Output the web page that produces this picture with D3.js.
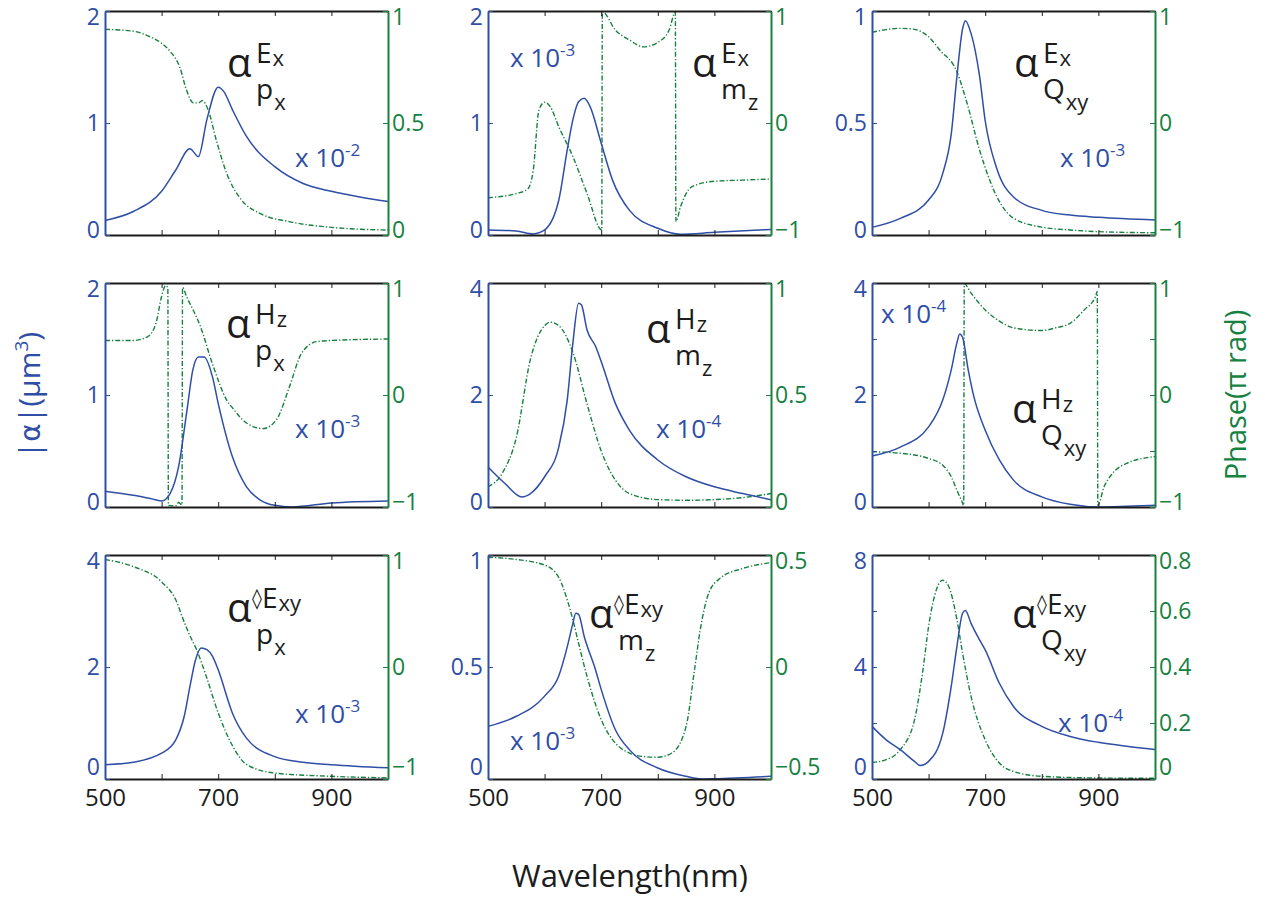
<!DOCTYPE html>
<html>
<head>
<meta charset="utf-8">
<script src="https://cdn.jsdelivr.net/npm/d3@7"></script>
<style>
  body { margin: 0; background: #fff; }
  text { font-family: "Open Sans", sans-serif; }
</style>
</head>
<body>
<div id="chart"></div>
<script>
// ---- data: |alpha| (blue) and phase in pi rad (green) ----
// row 1: incident Ex
var pxExWl   = [500,550,600,625,650,665,680,700,710,725,750,800,850,900,950,1000];
var pxExAmp  = [0.13,0.21,0.39,0.58,0.77,0.70,1.03,1.32,1.28,1.12,0.88,0.61,0.46,0.39,0.34,0.30];
var pxExPhWl = [500,550,575,600,615,632,644,656,665,672,682,697,715,740,775,825,900,1000];
var pxExPh   = [0.918,0.91,0.89,0.856,0.82,0.75,0.647,0.59,0.59,0.60,0.56,0.42,0.275,0.16,0.095,0.06,0.034,0.022];

var mzExWl   = [500,550,580,600,625,640,650,660,670,680,700,720,750,800,840,900,1000];
var mzExAmp  = [0.045,0.036,0.01,0.045,0.31,0.76,1.03,1.19,1.22,1.15,0.82,0.49,0.22,0.06,0.006,0.024,0.05];
var mzExPhWl = [500,550,570,580,590,600,610,625,650,675,701,702,725,750,775,800,820,831,832,840,860,900,950,1000];
var mzExPh   = [-0.667,-0.63,-0.59,-0.42,0.116,0.185,0.146,-0.033,-0.30,-0.63,-0.955,0.994,0.83,0.74,0.68,0.72,0.83,0.99,-0.88,-0.75,-0.57,-0.52,-0.51,-0.50];

var qxyExWl   = [500,550,600,625,640,650,660,665,675,690,700,720,750,800,850,900,1000];
var qxyExAmp  = [0.034,0.074,0.156,0.275,0.45,0.707,0.92,0.957,0.90,0.71,0.51,0.30,0.17,0.11,0.089,0.079,0.067];
var qxyExPhWl = [500,550,575,600,620,650,668,690,725,750,800,850,900,1000];
var qxyExPh   = [0.81,0.845,0.836,0.77,0.65,0.458,0.176,-0.24,-0.70,-0.85,-0.93,-0.955,-0.97,-0.98];

// row 2: incident Hz
var pxHzWl   = [500,550,580,600,615,630,645,655,665,675,690,700,725,750,775,800,830,900,1000];
var pxHzAmp  = [0.14,0.104,0.075,0.054,0.12,0.36,0.87,1.22,1.34,1.34,1.16,0.925,0.45,0.18,0.06,0.015,0.0,0.036,0.054];
var pxHzPhWl = [500,550,575,590,600,607,611,612,625,630,636,637,644,668,691,715,726,750,779,803,826,847,874,900,1000];
var pxHzPh   = [0.487,0.487,0.52,0.64,0.88,0.976,0.96,-0.985,-0.99,-0.96,-0.98,0.96,0.88,0.62,0.26,-0.045,-0.12,-0.25,-0.30,-0.22,0.075,0.37,0.477,0.487,0.50];

var mzHzWl   = [500,530,560,575,600,625,640,650,660,665,675,690,700,725,750,800,850,900,950,1000];
var mzHzAmp  = [0.716,0.42,0.18,0.24,0.54,1.07,1.91,2.93,3.64,3.61,3.16,2.87,2.60,1.85,1.37,0.84,0.54,0.36,0.24,0.13];
var mzHzPhWl = [500,525,550,575,600,610,625,650,675,700,725,750,800,850,900,950,1000];
var mzHzPh   = [0.09,0.15,0.31,0.66,0.81,0.825,0.81,0.69,0.46,0.25,0.12,0.06,0.033,0.03,0.033,0.042,0.06];

var qxyHzWl   = [500,550,600,625,640,650,655,660,670,680,700,725,750,800,850,900,950,1000];
var qxyHzAmp  = [0.91,1.07,1.43,1.91,2.45,2.93,3.09,3.03,2.45,1.97,1.37,0.84,0.48,0.18,0.048,0.0,0.012,0.03];
var qxyHzPhWl = [500,550,600,625,640,650,658,662,663,675,700,725,750,800,825,850,875,895,898,899,910,925,950,1000];
var qxyHzPh   = [-0.507,-0.52,-0.567,-0.627,-0.73,-0.85,-0.94,-0.985,0.994,0.91,0.76,0.66,0.60,0.576,0.60,0.64,0.76,0.88,0.925,-0.985,-0.82,-0.70,-0.61,-0.55];

// row 3: incident gradient dEx/dy
var pxGWl   = [500,550,600,625,640,650,660,670,680,690,700,725,750,800,850,900,1000];
var pxGAmp  = [0.256,0.30,0.46,0.70,1.12,1.65,2.13,2.34,2.31,2.19,1.95,1.18,0.73,0.40,0.30,0.256,0.20];
var pxGPhWl = [500,550,600,625,640,650,662,679,700,726,750,800,900,1000];
var pxGPh   = [0.96,0.896,0.76,0.60,0.40,0.28,0.153,-0.085,-0.41,-0.71,-0.87,-0.947,-0.976,-0.99];

var mzGWl   = [500,550,600,625,640,650,655,660,670,690,700,725,750,800,850,880,900,1000];
var mzGAmp  = [0.235,0.28,0.37,0.46,0.59,0.695,0.74,0.735,0.636,0.487,0.40,0.22,0.13,0.049,0.012,0.0,0.0015,0.012];
var mzGPhWl = [500,550,600,625,640,650,660,675,700,725,750,775,800,825,850,865,875,890,910,950,1000];
var mzGPh   = [0.49,0.48,0.455,0.40,0.30,0.21,0.106,-0.042,-0.235,-0.34,-0.384,-0.40,-0.403,-0.384,-0.265,-0.01,0.166,0.33,0.396,0.44,0.466];

var qxyGWl   = [500,525,550,575,585,600,625,640,650,660,665,675,690,700,725,750,800,850,900,950,1000];
var qxyGAmp  = [1.88,1.40,1.05,0.63,0.48,0.63,1.64,3.31,4.73,5.92,6.02,5.56,4.97,4.61,3.42,2.59,1.88,1.52,1.31,1.17,1.05];
var qxyGPhWl = [500,525,550,575,590,600,610,625,635,650,660,675,700,725,750,800,900,1000];
var qxyGPh   = [0.059,0.069,0.105,0.21,0.39,0.545,0.65,0.71,0.69,0.57,0.45,0.295,0.14,0.057,0.027,0.0095,0.0036,0.0024];

// axis ranges, ticks and labelled ticks
var ampDomains = [[0,2],[0,2],[0,1],[0,2],[0,4],[0,4],[0,4],[0,1],[0,8]];
var ampTicks   = [[0,1,2],[0,1,2],[0,0.5,1],[0,1,2],[0,2,4],[0,1,2,3,4],[0,2,4],[0,0.5,1],[0,2,4,6,8]];
var ampLabels  = [[0,1,2],[0,1,2],[0,0.5,1],[0,1,2],[0,2,4],[0,2,4],[0,2,4],[0,0.5,1],[0,4,8]];
var phDomains  = [[0,1],[-1,1],[-1,1],[-1,1],[0,1],[-1,1],[-1,1],[-0.5,0.5],[0,0.8]];
var phTicks    = [[0,0.5,1],[-1,0,1],[-1,0,1],[-1,0,1],[0,0.5,1],[-1,-0.5,0,0.5,1],[-1,0,1],[-0.5,0,0.5],[0,0.2,0.4,0.6,0.8]];
var phLabels   = [[0,0.5,1],[-1,0,1],[-1,0,1],[-1,0,1],[0,0.5,1],[-1,0,1],[-1,0,1],[-0.5,0,0.5],[0,0.2,0.4,0.6,0.8]];
var xTicks     = [500,600,700,800,900,1000];
var xLabels    = [500,700,900];

// panel annotations: alpha^{sup sup2}_{sub sub2} and the "x 10^n" scale
var labelSup   = ["E","E","E","H","H","H","\u25CAE","\u25CAE","\u25CAE"];
var labelSup2  = ["x","x","x","z","z","z","xy","xy","xy"];
var labelSub   = ["p","m","Q","p","m","Q","p","m","Q"];
var labelSub2  = ["x","z","xy","x","z","xy","x","z","xy"];
var scaleExp   = ["-2","-3","-3","-3","-4","-4","-3","-3","-4"];

var amps = [pxExAmp, mzExAmp, qxyExAmp, pxHzAmp, mzHzAmp, qxyHzAmp, pxGAmp, mzGAmp, qxyGAmp];
var ampWls = [pxExWl, mzExWl, qxyExWl, pxHzWl, mzHzWl, qxyHzWl, pxGWl, mzGWl, qxyGWl];
var phs = [pxExPh, mzExPh, qxyExPh, pxHzPh, mzHzPh, qxyHzPh, pxGPh, mzGPh, qxyGPh];
var phWls = [pxExPhWl, mzExPhWl, qxyExPhWl, pxHzPhWl, mzHzPhWl, qxyHzPhWl, pxGPhWl, mzGPhWl, qxyGPhWl];

// ---- layout ----
var width = 1265, height = 900;
var blue = "#2f4ea6", green = "#17813f", ink = "#1c1c1c";
var panelW = 283, panelH = 224;
var colX = [105, 488, 872], rowY = [11, 283, 555];
var labelPos = [[227,77],[692,77],[1014,77],[226,338],[646,343],[1012,423],[227,622],[589,628],[1012,628]];
var scalePos = [[295,167],[510,67],[1060,167],[295,438],[656,438],[881,323],[295,723],[510,750],[1058,732]];

var fmt = d3.format("~g");

var svg = d3.select("#chart").append("svg")
    .attr("width", width)
    .attr("height", height);

var x = d3.scaleLinear().domain([500, 1000]).range([0, panelW]);

amps.forEach(function(amp, i) {
    var g = svg.append("g")
        .attr("transform", "translate(" + colX[i % 3] + "," + rowY[Math.floor(i / 3)] + ")");

    var yA = d3.scaleLinear().domain(ampDomains[i]).range([panelH, 0]);
    var yP = d3.scaleLinear().domain(phDomains[i]).range([panelH, 0]);

    // phase, dash-dot
    g.append("path")
        .datum(d3.zip(phWls[i], phs[i]))
        .attr("d", d3.line().x(d => x(d[0])).y(d => yP(d[1])).curve(d3.curveMonotoneX))
        .attr("fill", "none")
        .attr("stroke", green)
        .attr("stroke-width", 1.4)
        .attr("stroke-dasharray", "5,2,1.3,2");

    // amplitude, solid
    g.append("path")
        .datum(d3.zip(ampWls[i], amp))
        .attr("d", d3.line().x(d => x(d[0])).y(d => yA(d[1])).curve(d3.curveMonotoneX))
        .attr("fill", "none")
        .attr("stroke", blue)
        .attr("stroke-width", 1.5);

    // top and bottom axes
    g.append("g")
        .call(d3.axisTop(x).tickValues(xTicks).tickSize(-5).tickSizeOuter(0).tickFormat(""))
        .attr("color", ink);
    var bottom = g.append("g")
        .attr("transform", "translate(0," + panelH + ")")
        .call(d3.axisBottom(x).tickValues(xTicks).tickSize(-5).tickSizeOuter(0).tickPadding(10)
            .tickFormat(d => (i >= 6 && xLabels.includes(d)) ? d : ""))
        .attr("color", ink);

    // left amplitude axis
    var left = g.append("g")
        .call(d3.axisLeft(yA).tickValues(ampTicks[i]).tickSize(-5).tickSizeOuter(0).tickPadding(5)
            .tickFormat(d => ampLabels[i].includes(d) ? fmt(d) : ""))
        .attr("color", blue);

    // right phase axis
    var right = g.append("g")
        .attr("transform", "translate(" + panelW + ",0)")
        .call(d3.axisRight(yP).tickValues(phTicks[i]).tickSize(-5).tickSizeOuter(0).tickPadding(4)
            .tickFormat(d => phLabels[i].includes(d) ? fmt(d) : ""))
        .attr("color", green);

    [bottom, left, right].forEach(function(ax) {
        ax.attr("font-family", null).attr("font-size", null)
          .selectAll("text").attr("font-size", 23);
    });
    bottom.selectAll("text").attr("font-size", 24);
    g.selectAll(".domain").attr("stroke-width", 2);

    // keep end labels inside the box like the original
    var lowShift = i >= 6 ? -12 : -5;
    [[left, ampDomains[i]], [right, phDomains[i]]].forEach(function(pair) {
        pair[0].selectAll(".tick text")
            .attr("transform", d => d === pair[1][1] ? "translate(0,6)" : d === pair[1][0] ? "translate(0," + lowShift + ")" : null);
    });

    // alpha label
    var lp = labelPos[i];
    var lab = svg.append("g")
        .attr("transform", "translate(" + lp[0] + "," + lp[1] + ")")
        .attr("fill", ink);
    lab.append("text")
        .attr("font-family", "'DejaVu Sans', sans-serif")
        .attr("font-size", 40)
        .text("\u03B1");
    var supText = lab.append("text").attr("x", 29).attr("y", -14);
    if (labelSup[i].length > 1) {
        supText.attr("x", 25);
        supText.append("tspan").attr("font-family", "'DejaVu Sans', sans-serif")
            .attr("font-size", 20).attr("dy", -3).text(labelSup[i][0]);
        supText.append("tspan").attr("font-size", 28).attr("dy", 3).text(labelSup[i].slice(1));
    } else {
        supText.attr("font-size", 28).text(labelSup[i]);
    }
    var supEnd = Number(supText.attr("x")) + supText.node().getComputedTextLength();
    lab.append("text").attr("x", supEnd + 1).attr("y", -11).attr("font-size", 22).text(labelSup2[i]);
    var subText = lab.append("text").attr("x", 29).attr("y", 22).attr("font-size", 28).text(labelSub[i]);
    var subEnd = 29 + subText.node().getComputedTextLength();
    lab.append("text").attr("x", subEnd + 1).attr("y", 33).attr("font-size", 22).text(labelSub2[i]);

    // scale factor
    var sp = scalePos[i];
    var st = svg.append("text")
        .attr("x", sp[0]).attr("y", sp[1])
        .attr("fill", blue)
        .attr("font-size", 26);
    st.append("tspan").text("x 10");
    st.append("tspan").attr("font-size", 17).attr("dy", -11).text(scaleExp[i]);
});

// axis titles
var yTitle = svg.append("text")
    .attr("transform", "translate(40,395) rotate(-90)")
    .attr("text-anchor", "middle")
    .attr("fill", blue)
    .attr("font-size", 30);
yTitle.append("tspan").text("|");
yTitle.append("tspan").attr("font-family", "'DejaVu Sans', sans-serif").attr("font-size", 28).text("\u03B1");
yTitle.append("tspan").text("|(\u03BCm");
yTitle.append("tspan").attr("font-size", 19).attr("dy", -12).text("3");
yTitle.append("tspan").attr("dy", 12).text(")");

svg.append("text")
    .attr("transform", "translate(1246,395) rotate(-90)")
    .attr("text-anchor", "middle")
    .attr("fill", green)
    .attr("font-size", 29)
    .text("Phase(\u03C0 rad)");

svg.append("text")
    .attr("x", 630).attr("y", 887)
    .attr("text-anchor", "middle")
    .attr("fill", ink)
    .attr("font-size", 31)
    .text("Wavelength(nm)");
</script>
</body>
</html>
